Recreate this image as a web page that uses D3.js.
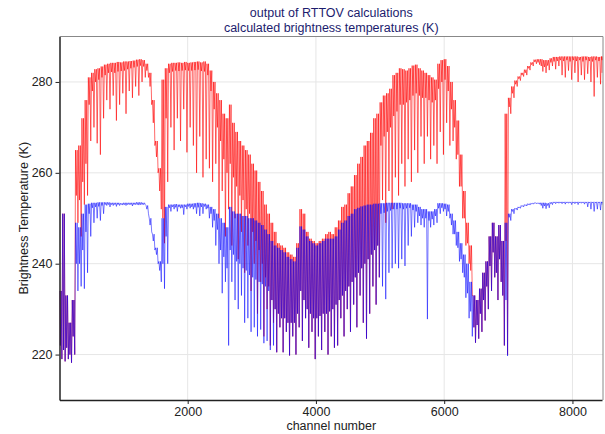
<!DOCTYPE html>
<html>
<head>
<meta charset="utf-8">
<script src="https://cdn.jsdelivr.net/npm/d3@7"></script>
<style>
    body { margin: 0; background: #fff; }
    text { font-family: "Liberation Sans", Arial, sans-serif; }
</style>
</head>
<body>
<div id="chart"></div>
<script>
// spectra binned per 50 channels (K): top of each bin, lower edge of the dense band, deepest line
const binWidth = 50
const nChannels = 8461

const redHi = [234, 251, 233, 227, 232, 265, 266, 272, 276, 281,
    282, 282.8, 283, 283.4, 283.8, 284, 284.2, 284.2, 284.4, 284.3,
    284.5, 284.5, 284.6, 284.7, 284.9, 285, 284.8, 284, 282, 276,
    267, 261, 280.5, 283, 284, 284.2, 284.2, 284.3, 284.2, 284.4,
    284.2, 284.3, 284.4, 284.5, 284.3, 284.5, 284, 282.5, 280, 277.5,
    276, 273, 272, 275, 271, 269, 267, 266, 265, 264,
    262, 260.5, 258, 256, 253, 251, 249, 247, 244.5, 244,
    243.5, 242.5, 242, 241.5, 244.5, 252, 251, 247, 245.5, 245,
    244.5, 245, 245.5, 246.5, 247, 246.5, 248, 249.5, 252.5, 253,
    255.5, 257, 259.5, 262, 263.5, 266, 267, 268.8, 272, 273,
    275.5, 277, 277.5, 278.5, 281.5, 282, 283, 282.8, 282.5, 283,
    283.6, 283.8, 283, 282.5, 282, 281.5, 281, 280.5, 284, 284.8,
    285, 283.5, 280, 276, 271.5, 264, 256, 249, 244, 233,
    232, 234.5, 238, 240.5, 246, 249, 246, 248.5, 245, 273,
    276.5, 279, 280.3, 281.2, 282, 282.7, 283.5, 284.3, 284.9, 285,
    285, 284.8, 284.8, 285.2, 285.5, 285.5, 285.6, 285.6, 285.6, 285.6,
    285.6, 285.6, 285.5, 285.6, 285.6, 285.5, 285.6, 285.6, 285.5, 285.6]

const redBand = [222, 221, 221.5, 220, 224, 255, 254, 258, 262, 275,
    278, 280, 280.5, 281, 281.5, 282, 282.2, 282, 282.3, 282.4,
    282.5, 282.8, 283, 283.2, 283.4, 283.6, 283.4, 282.5, 279, 271,
    263.5, 256, 250, 272, 282, 282.3, 282.5, 282.4, 282.5, 282.6,
    282.5, 282.5, 282.6, 282.7, 282.4, 282.3, 281.5, 278, 274, 270,
    267, 263, 260, 262, 259, 257, 255, 254, 252, 251,
    247, 245, 243, 240, 237, 235, 232, 230, 229, 228,
    228, 227, 227, 227, 229, 234, 232, 230, 229, 228,
    228, 228.5, 229, 229, 229.5, 230, 231, 232, 233, 234,
    235, 236, 237, 238, 239, 240, 241, 242, 243, 244,
    266, 268, 269, 270, 272.5, 273.5, 275, 275, 275.5, 276,
    277, 277.5, 277, 276.5, 276.5, 276, 275.5, 276, 278.5, 280,
    280.5, 278, 274, 270, 264, 257, 250, 244.5, 238.5, 226,
    226.5, 229, 232, 235, 239.5, 242.5, 238, 241, 233, 245,
    274.5, 277.5, 279.5, 280.7, 281.5, 282, 283, 283.8, 284.4, 284.3,
    283.5, 283.3, 283.6, 284.3, 284.5, 284.6, 284.8, 284.6, 284.8, 284.5,
    284.8, 284.6, 284.8, 284.5, 284.8, 284.6, 284.5, 284.8, 284.6, 284.8]

const redLo = [219, 218.5, 219, 218.2, 220, 249, 246, 253, 255, 267,
    270, 266.5, 264, 272, 276, 274, 277, 271.5, 275, 277.5,
    273, 278, 276.5, 279, 277, 280, 281, 281, 275, 266,
    260, 252, 244.5, 258, 270, 265, 272, 267, 274, 264.5,
    270, 266, 260, 268, 259, 263, 261, 258, 262, 250,
    256, 246, 252, 244, 250, 241, 247, 238, 244, 234,
    240, 229, 236, 224, 230, 222, 227, 220.5, 226, 220.5,
    225, 219.8, 224, 220, 226, 223, 228, 221.5, 225, 219,
    224, 221, 225, 220, 224, 221.5, 222, 228, 224, 230,
    225, 231, 226, 233, 227, 223.5, 229, 235, 231, 237,
    254, 249, 256, 252, 259, 255, 262, 257, 263, 258,
    265, 260, 268, 262, 268, 263, 266, 262, 269, 264,
    271, 266, 267, 263, 257, 250, 244, 240, 233, 222.6,
    223.5, 225, 227.5, 230, 234, 237, 232, 236, 222, 220,
    273, 276.5, 279, 280.3, 281.2, 281.5, 282.6, 283.5, 284, 283.8,
    282.3, 282, 282.6, 283.5, 282.8, 283.5, 281.5, 281, 282.5, 280.5,
    282, 280, 281.5, 280.5, 281.8, 280, 276.8, 281, 279.5, 282]

const blueHi = [234, 251, 233, 227, 232, 249, 248, 251, 253, 253.2,
    253.4, 253.4, 253.5, 253.5, 253.5, 253.5, 253.4, 253.4, 253.4, 253.3,
    253.4, 253.4, 253.4, 253.4, 253.5, 253.5, 253.4, 252.8, 250, 246.5,
    243.5, 240.5, 250, 252.5, 253, 253, 253.1, 253, 253, 253,
    253.2, 253.2, 253.3, 253.4, 253.3, 253.2, 253, 252.5, 252, 251,
    250, 249, 248, 252.5, 251.5, 251, 251, 250.5, 250.5, 250,
    250, 249.5, 249, 248.5, 247.5, 246.5, 245, 244, 243.5, 243,
    242.5, 241.5, 241, 240.5, 243.5, 248.2, 247.5, 246, 245, 244.5,
    244, 244.5, 245, 245.5, 245.5, 245.5, 246, 247.5, 249, 249.5,
    250.5, 251, 252, 252.3, 252.6, 252.8, 253, 253, 253.2, 253.2,
    253.3, 253.3, 253.4, 253.4, 253.4, 253.4, 253.4, 253.3, 253.3, 253.3,
    253, 253, 252.5, 252, 252, 251.5, 251.5, 252, 253.3, 253.3,
    253.2, 253, 251, 249.5, 247, 244.5, 242, 240, 236, 233,
    232, 234.5, 238, 240.5, 246, 249, 246, 248.5, 245, 249,
    251, 252, 252.2, 252.5, 252.8, 253, 253.2, 253.3, 253.4, 253.4,
    253.4, 253.4, 253.3, 253.5, 253.6, 253.6, 253.6, 253.6, 253.6, 253.6,
    253.6, 253.6, 253.6, 253.6, 253.6, 253.6, 253.6, 253.6, 253.6, 253.6]

const blueBand = [222, 221, 221.5, 220, 224, 240, 240, 243, 247, 251,
    252.3, 252.5, 252.6, 252.8, 253, 253, 253, 253, 253, 253,
    253, 253, 253, 253, 253, 253, 253, 252, 248.5, 245,
    242, 238.5, 240, 246, 252.3, 252.5, 252.4, 252.5, 252.3, 252.5,
    252.6, 252.5, 252.4, 252.4, 252.5, 252.6, 252.2, 251, 249.5, 247.5,
    243, 241.5, 239, 243, 242, 240.5, 240, 239, 238.5, 237.5,
    237, 236.5, 236, 235.5, 235, 234, 232, 230, 229, 228,
    228, 227, 227, 227, 229, 234, 232, 230, 229, 228,
    228, 228.5, 229, 229, 229.5, 230, 231, 232, 233, 234,
    235, 236, 237, 238, 239, 240, 241, 242, 243, 244,
    251, 251.2, 251.5, 251.7, 252, 252, 252.2, 252, 252.2, 252.3,
    251.8, 251.5, 250.5, 250, 250, 249.5, 249.8, 250.5, 252.2, 252.3,
    252, 251.5, 248.5, 246.5, 243.5, 241, 237, 233.5, 229.5, 226,
    226.5, 229, 232, 235, 239.5, 242.5, 238, 241, 233, 232,
    250.2, 251.5, 252, 252.3, 252.6, 252.8, 253, 253.2, 253.3, 253.2,
    252.8, 252.7, 252.8, 253.2, 253.4, 253.4, 253.4, 253.4, 253.4, 253.4,
    253.4, 253.4, 253.4, 253.4, 253.4, 253.4, 253.4, 253.4, 253.4, 253.4]

const blueLo = [219, 218.5, 219, 218.2, 220, 234, 235, 234.5, 238, 246,
    249, 250, 249.5, 251, 252.8, 252.5, 252.8, 252.6, 252.8, 252.9,
    252.8, 253, 252.7, 253, 252.9, 253, 253, 251, 247, 243,
    240, 236, 234.5, 240, 251.5, 252, 251.5, 252.2, 250.8, 252,
    252.2, 252, 251, 250.5, 251, 252, 250, 248, 244, 240,
    233.5, 236, 222, 236, 232, 230, 233, 227, 228, 225,
    226, 224, 225.5, 222.5, 223, 221, 222, 220.5, 226, 220.5,
    225, 219.8, 224, 220, 226, 223, 228, 221.5, 225, 219,
    224, 221, 225, 220, 224, 221.5, 222, 228, 224, 230,
    225, 231, 226, 233, 227, 223.5, 229, 235, 231, 237,
    235, 232.2, 238, 239, 240, 239, 241, 239.5, 244, 246,
    248, 249, 248.5, 248, 227.8, 248, 248.5, 249, 251, 251.5,
    250.5, 250, 246.5, 244, 240.5, 238, 232.5, 228, 224, 222.6,
    223.5, 225, 227.5, 230, 234, 237, 232, 236, 222, 219.7,
    249.5, 251, 251.8, 252.2, 252.5, 252.7, 252.9, 253.1, 253.2, 253.1,
    252.2, 252.1, 252.3, 253, 253.2, 253.3, 253.2, 253.1, 253.3, 253,
    253.2, 253, 253.3, 253.1, 252.5, 252, 251.5, 252, 251.8, 253]

const xTicks = [2000, 4000, 6000, 8000]
const yTicks = [220, 240, 260, 280]
const titleLines = ["output of RTTOV calculations", "calculated brightness temperatures (K)"]

function chart() {
    const W = 605, H = 434
    const margin = {l: 59.5, r: 2, t: 36.5, b: 34}
    const width = W - margin.l - margin.r
    const height = H - margin.t - margin.b

    let svg = d3.select("#chart").append("svg")
        .attr("width", W)
        .attr("height", H)

    let g = svg.append("g")
        .attr("transform", `translate(${margin.l},${margin.t})`)

    let scaleX = d3.scaleLinear().domain([1, nChannels]).range([0, width - 1])
    let scaleY = d3.scaleLinear().domain([210, 290]).range([height, 0])

    //grid
    g.append("g").selectAll("line").data(xTicks).join("line")
        .attr("x1", d => scaleX(d)).attr("x2", d => scaleX(d))
        .attr("y1", 0).attr("y2", height)
        .attr("stroke", "#e6e6e6")
    g.append("g").selectAll("line").data(yTicks).join("line")
        .attr("x1", 0).attr("x2", width)
        .attr("y1", d => scaleY(d)).attr("y2", d => scaleY(d))
        .attr("stroke", "#e6e6e6")

    //each bin: top -> band -> top -> deepest line, a quarter bin apart
    function spectrum(hi, band, lo) {
        let pts = []
        hi.forEach(function(v, i) {
            let c0 = i * binWidth + 1
            let q = binWidth / 4
            pts.push([c0, v])
            pts.push([Math.min(c0 + q, nChannels), band[i]])
            pts.push([Math.min(c0 + 2 * q, nChannels), v])
            pts.push([Math.min(c0 + 3 * q, nChannels), lo[i]])
        })
        return pts
    }

    g.append("clipPath").attr("id", "plotclip")
        .append("rect").attr("width", width).attr("height", height)

    let line = d3.line()
        .x(d => scaleX(d[0]))
        .y(d => scaleY(d[1]))

    let lines = g.append("g").attr("clip-path", "url(#plotclip)")
    lines.append("path")
        .datum(spectrum(redHi, redBand, redLo))
        .attr("fill", "none")
        .attr("stroke", "#ff0000")
        .attr("stroke-opacity", 0.85)
        .attr("stroke-width", 0.7)
        .attr("d", line)
    lines.append("path")
        .datum(spectrum(blueHi, blueBand, blueLo))
        .attr("fill", "none")
        .attr("stroke", "#0000ff")
        .attr("stroke-opacity", 0.75)
        .attr("stroke-width", 0.7)
        .attr("d", line)

    //frame
    g.append("line").attr("x1", 0).attr("x2", width).attr("y1", 0).attr("y2", 0)
        .attr("stroke", "#888")
    g.append("line").attr("x1", width).attr("x2", width).attr("y1", 0).attr("y2", height)
        .attr("stroke", "#888")

    let axisX = d3.axisBottom(scaleX).tickValues(xTicks).tickFormat(d3.format("d"))
        .tickSize(4).tickSizeOuter(0)
    let axisY = d3.axisLeft(scaleY).tickValues(yTicks).tickFormat(d3.format("d"))
        .tickSize(4).tickSizeOuter(0)

    let gx = g.append("g")
        .attr("transform", `translate(0,${height})`)
        .call(axisX)
    let gy = g.append("g").call(axisY)
    ;[gx, gy].forEach(function(a) {
        a.select(".domain").attr("stroke", "#222").attr("stroke-width", 1.5)
        a.selectAll(".tick line").attr("stroke", "#222")
        a.selectAll(".tick text")
            .attr("fill", "#222")
            .attr("font-size", 12.5)
            .attr("font-family", "Liberation Sans, Arial, sans-serif")
    })

    //labels
    svg.append("text")
        .attr("x", margin.l + width / 2)
        .attr("y", 430)
        .attr("text-anchor", "middle")
        .attr("font-size", 12.5)
        .attr("fill", "#222")
        .text("channel number")
    svg.append("text")
        .attr("transform", `translate(28,${margin.t + height / 2}) rotate(-90)`)
        .attr("text-anchor", "middle")
        .attr("font-size", 12.5)
        .attr("fill", "#222")
        .text("Brightness Temperature (K)")

    svg.append("g").selectAll("text").data(titleLines).join("text")
        .attr("x", margin.l + width / 2)
        .attr("y", (d, i) => 17 + i * 15)
        .attr("text-anchor", "middle")
        .attr("font-size", 12.5)
        .attr("fill", "#1c1c6e")
        .text(d => d)
}
chart()
</script>
</body>
</html>
